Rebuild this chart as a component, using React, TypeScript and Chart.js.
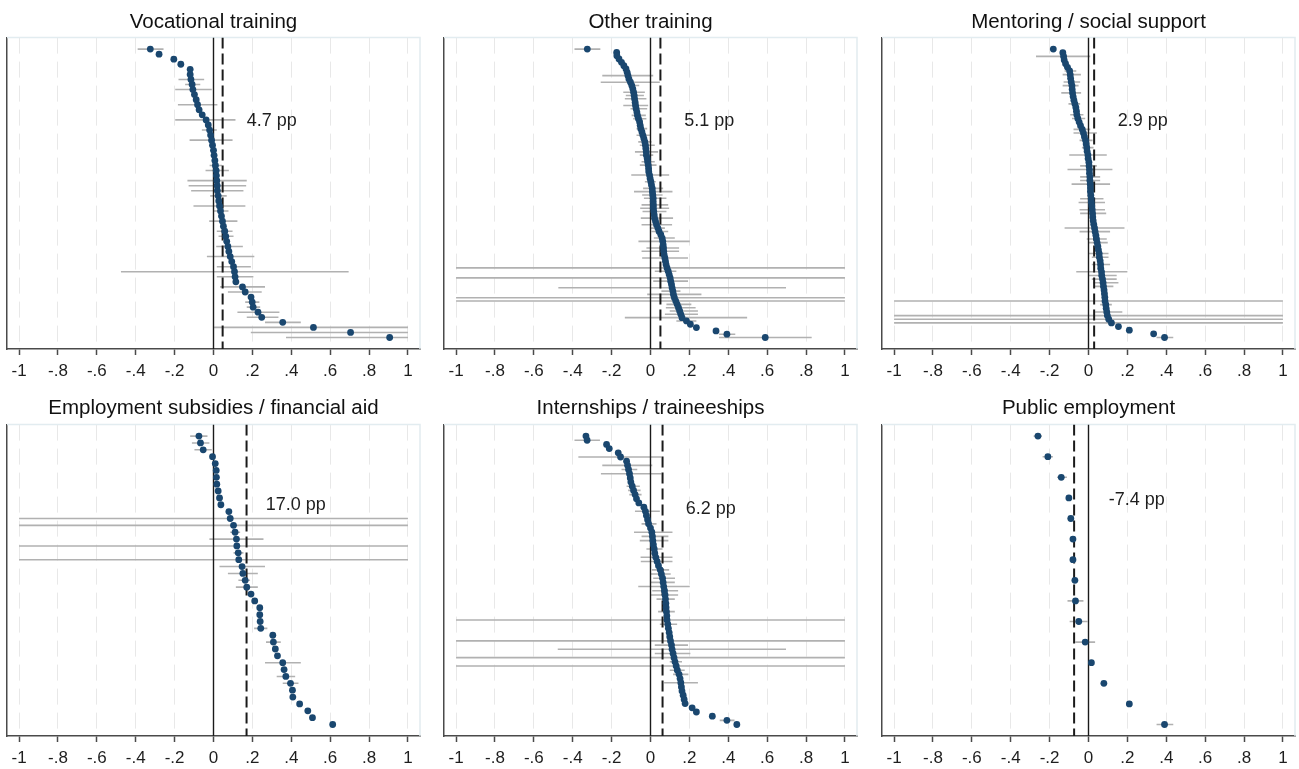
import React, { useEffect, useRef } from "react";
import { Chart, registerables } from "chart.js";

Chart.register(...registerables);

// ---------- shared axis content ----------
const TICK_VALUES = [-1, -0.8, -0.6, -0.4, -0.2, 0, 0.2, 0.4, 0.6, 0.8, 1];
const TICK_LABELS = ["-1", "-.8", "-.6", "-.4", "-.2", "0", ".2", ".4", ".6", ".8", "1"];

const TITLES = [
  "Vocational training",
  "Other training",
  "Mentoring / social support",
  "Employment subsidies / financial aid",
  "Internships / traineeships",
  "Public employment",
];
const MEANS = [0.047, 0.051, 0.029, 0.17, 0.062, -0.074];
const MEAN_LABELS = ["4.7 pp", "5.1 pp", "2.9 pp", "17.0 pp", "6.2 pp", "-7.4 pp"];
const MEAN_LABEL_X = [0.171, 0.173, 0.15, 0.269, 0.181, 0.104];

// ---------- Vocational training ----------
const VOC_EST = [
  -0.325, -0.28, -0.204, -0.168, -0.12, -0.12, -0.116, -0.11, -0.106, -0.098,
  -0.089, -0.082, -0.074, -0.058, -0.038, -0.027, -0.02, -0.015, -0.01, -0.005,
  0.0, 0.003, 0.007, 0.01, 0.014, 0.015, 0.017, 0.019, 0.02, 0.024,
  0.027, 0.031, 0.036, 0.041, 0.046, 0.051, 0.058, 0.063, 0.068, 0.074,
  0.079, 0.086, 0.094, 0.103, 0.108, 0.111, 0.115, 0.149, 0.163, 0.193,
  0.199, 0.204, 0.229, 0.248, 0.356, 0.514, 0.705, 0.906,
];
const VOC_CI_IDX = [0, 6, 7, 8, 11, 14, 16, 18, 23, 24, 26, 27, 28, 29, 31, 32, 34, 36, 37, 39, 41, 43, 44, 45, 47, 48, 50, 51, 52, 53, 54, 55, 56, 57];
const VOC_CI_LO = [-0.39, -0.18, -0.146, -0.197, -0.183, -0.197, -0.06, -0.123, -0.02, -0.041, -0.134, -0.128, -0.115, -0.017, -0.103, 0.0, -0.022, 0.017, 0.026, 0.014, -0.034, 0.017, -0.476, 0.017, 0.034, 0.074, 0.163, 0.171, 0.123, 0.171, 0.265, 0.003, 0.192, 0.373];
const VOC_CI_HI = [-0.257, -0.048, -0.068, -0.009, 0.02, 0.113, 0.017, 0.098, 0.043, 0.079, 0.171, 0.168, 0.154, 0.068, 0.164, 0.077, 0.123, 0.098, 0.103, 0.151, 0.21, 0.192, 0.695, 0.205, 0.265, 0.248, 0.236, 0.24, 0.339, 0.334, 0.449, 1, 1, 1];

// ---------- Other training ----------
const OTH_EST = [
  -0.325, -0.174, -0.173, -0.162, -0.149, -0.137, -0.126, -0.12, -0.116, -0.111,
  -0.103, -0.096, -0.091, -0.087, -0.084, -0.082, -0.079, -0.077, -0.074, -0.07,
  -0.067, -0.062, -0.056, -0.053, -0.05, -0.044, -0.039, -0.034, -0.029, -0.026,
  -0.024, -0.022, -0.021, -0.017, -0.015, -0.012, -0.01, -0.009, -0.005, -0.002,
  0.002, 0.005, 0.009, 0.01, 0.012, 0.014, 0.014, 0.015, 0.015, 0.017,
  0.019, 0.021, 0.026, 0.031, 0.038, 0.044, 0.053, 0.06, 0.063, 0.065,
  0.067, 0.068, 0.07, 0.074, 0.077, 0.08, 0.085, 0.091, 0.096, 0.101,
  0.104, 0.108, 0.111, 0.115, 0.118, 0.123, 0.13, 0.137, 0.144, 0.15,
  0.156, 0.162, 0.185, 0.205, 0.236, 0.337, 0.393, 0.59,
];
const OTH_CI_IDX = [0, 8, 10, 11, 13, 14, 15, 17, 18, 20, 21, 24, 26, 28, 29, 31, 32, 34, 35, 38, 40, 42, 43, 44, 45, 47, 48, 49, 51, 53, 54, 55, 57, 58, 60, 61, 63, 66, 67, 69, 70, 72, 73, 74, 75, 76, 77, 78, 79, 80, 81, 82, 86, 87];
const OTH_CI_LO = [-0.391, -0.248, -0.256, -0.106, -0.14, -0.127, -0.132, -0.14, -0.103, -0.097, -0.089, -0.072, -0.072, -0.063, -0.055, -0.08, -0.055, -0.046, -0.055, -0.099, -0.029, -0.038, -0.085, -0.043, -0.034, -0.046, -0.053, -0.041, -0.05, -0.046, -0.003, 0.005, 0.017, -0.062, -0.021, -0.046, -0.043, -1, 0.022, -1, 0.014, -0.474, 0.056, -0.017, -1, -1, 0.082, 0.079, 0.099, 0.074, -0.132, 0.133, 0.352, 0.352];
const OTH_CI_HI = [-0.258, 0.014, 0.048, -0.058, -0.029, -0.034, -0.021, -0.012, -0.017, -0.024, -0.021, -0.017, -0.003, 0.005, 0.022, 0.039, 0.014, 0.022, 0.031, 0.096, 0.027, 0.065, 0.113, 0.062, 0.082, 0.091, 0.096, 0.082, 0.116, 0.111, 0.074, 0.091, 0.125, 0.202, 0.147, 0.147, 0.193, 1, 0.133, 1, 0.193, 0.697, 0.154, 0.262, 1, 1, 0.21, 0.232, 0.244, 0.244, 0.497, 0.236, 0.436, 0.829];

// ---------- Mentoring / social support ----------
const MEN_EST = [
  -0.181, -0.132, -0.128, -0.125, -0.118, -0.108, -0.097, -0.094, -0.092, -0.089,
  -0.085, -0.084, -0.082, -0.079, -0.075, -0.07, -0.065, -0.062, -0.06, -0.055,
  -0.048, -0.041, -0.032, -0.026, -0.021, -0.015, -0.012, -0.009, -0.007, -0.003,
  -0.002, 0.002, 0.003, 0.005, 0.005, 0.007, 0.007, 0.009, 0.01, 0.01,
  0.012, 0.014, 0.015, 0.017, 0.019, 0.021, 0.022, 0.024, 0.027, 0.031,
  0.034, 0.038, 0.041, 0.044, 0.048, 0.051, 0.055, 0.056, 0.06, 0.062,
  0.063, 0.067, 0.068, 0.072, 0.075, 0.077, 0.08, 0.082, 0.084, 0.085,
  0.089, 0.091, 0.094, 0.097, 0.104, 0.118, 0.154, 0.21, 0.335, 0.391,
];
const MEN_CI_IDX = [2, 6, 7, 9, 10, 12, 15, 18, 19, 22, 23, 25, 27, 29, 32, 33, 35, 36, 37, 41, 42, 44, 45, 49, 50, 52, 53, 56, 57, 59, 61, 62, 63, 64, 65, 69, 70, 72, 73, 74, 75, 79];
const MEN_CI_LO = [-0.27, -0.123, -0.133, -0.128, -0.133, -0.14, -0.103, -0.094, -0.085, -0.077, -0.077, -0.046, -0.034, -0.099, -0.043, -0.108, -0.043, -0.043, -0.087, -0.043, -0.051, -0.046, -0.043, -0.123, -0.046, -0.009, 0.0, 0.0, 0.017, 0.017, -0.063, 0.0, 0.017, 0.026, 0.029, -1, 0.06, 0.034, -1, -1, -1, 0.35];
const MEN_CI_HI = [0.009, -0.063, -0.039, -0.043, -0.051, -0.038, -0.043, -0.026, -0.017, 0.009, 0.043, 0.021, 0.026, 0.094, 0.043, 0.123, 0.06, 0.06, 0.111, 0.077, 0.085, 0.085, 0.091, 0.185, 0.111, 0.094, 0.099, 0.103, 0.103, 0.111, 0.2, 0.145, 0.145, 0.154, 0.128, 1, 0.12, 0.174, 1, 1, 1, 0.436];

// ---------- Employment subsidies / financial aid ----------
const SUB_EST = [
  -0.075, -0.067, -0.053, -0.005, 0.009, 0.014, 0.015, 0.017, 0.024, 0.031,
  0.038, 0.079, 0.086, 0.103, 0.111, 0.118, 0.12, 0.127, 0.13, 0.147,
  0.151, 0.163, 0.171, 0.193, 0.212, 0.238, 0.238, 0.24, 0.243, 0.305,
  0.308, 0.318, 0.329, 0.356, 0.363, 0.372, 0.396, 0.406, 0.408, 0.443,
  0.485, 0.509, 0.613,
];
const SUB_CI_IDX = [0, 1, 2, 9, 12, 13, 14, 15, 16, 17, 18, 19, 20, 21, 22, 28, 30, 33, 35, 36];
const SUB_CI_LO = [-0.12, -0.111, -0.098, 0.017, -1, -1, 0.086, -0.021, -1, 0.103, -1, 0.031, 0.074, 0.128, 0.115, 0.209, 0.27, 0.265, 0.325, 0.356];
const SUB_CI_HI = [-0.031, -0.021, -0.009, 0.048, 1, 1, 0.137, 0.257, 1, 0.154, 1, 0.265, 0.228, 0.188, 0.228, 0.277, 0.346, 0.449, 0.42, 0.437];

// ---------- Internships / traineeships ----------
const INT_EST = [
  -0.332, -0.326, -0.226, -0.212, -0.166, -0.154, -0.123, -0.118, -0.113, -0.108,
  -0.104, -0.101, -0.094, -0.087, -0.079, -0.072, -0.06, -0.034, -0.026, -0.021,
  -0.015, -0.01, 0.0, 0.007, 0.01, 0.012, 0.015, 0.019, 0.022, 0.027,
  0.034, 0.041, 0.05, 0.056, 0.062, 0.065, 0.068, 0.072, 0.075, 0.077,
  0.079, 0.08, 0.082, 0.084, 0.085, 0.089, 0.092, 0.096, 0.099, 0.103,
  0.108, 0.111, 0.116, 0.121, 0.126, 0.132, 0.138, 0.147, 0.152, 0.156,
  0.159, 0.162, 0.168, 0.173, 0.178, 0.214, 0.236, 0.318, 0.393, 0.444,
];
const INT_CI_IDX = [1, 5, 7, 8, 9, 12, 13, 14, 18, 21, 23, 24, 25, 27, 29, 30, 32, 33, 34, 35, 36, 37, 38, 39, 42, 44, 45, 49, 50, 51, 52, 53, 54, 55, 56, 57, 59, 68];
const INT_CI_LO = [-0.391, -0.371, -0.248, -0.149, -0.255, -0.123, -0.115, -0.109, -0.08, -0.046, -0.085, -0.046, -0.055, -0.021, -0.051, -0.05, 0.007, 0.0, 0.014, 0.002, -0.063, 0.009, 0.002, 0.031, 0.039, -1, 0.048, -1, 0.022, -0.477, 0.022, -1, 0.099, -1, 0.099, 0.116, 0.07, 0.356];
const INT_CI_HI = [-0.26, 0.056, 0.009, -0.068, 0.056, -0.055, -0.051, -0.046, 0.048, 0.031, 0.113, 0.092, 0.092, 0.062, 0.113, 0.113, 0.096, 0.104, 0.126, 0.125, 0.202, 0.142, 0.142, 0.125, 0.125, 1, 0.137, 1, 0.193, 0.697, 0.205, 1, 0.162, 1, 0.176, 0.195, 0.244, 0.432];

// ---------- Public employment ----------
const PUB_EST = [-0.26, -0.209, -0.14, -0.101, -0.091, -0.08, -0.08, -0.07, -0.067, -0.05, -0.017, 0.015, 0.079, 0.21, 0.391];
const PUB_CI_IDX = [0, 1, 2, 4, 8, 9, 10, 14];
const PUB_CI_LO = [-0.282, -0.236, -0.162, -0.108, -0.108, -0.097, -0.068, 0.35];
const PUB_CI_HI = [-0.239, -0.183, -0.111, -0.074, -0.026, -0.005, 0.034, 0.436];

// ---------- layout / style ----------
const FONT = "'Liberation Sans', Arial, Helvetica, sans-serif";
const NAVY = "#1a476f";
const CI_GRAY = "#b1b1b1";
const AXIS = "#4a4a4a";
const COL_LEFT = [7, 444, 882];
const PLOT_W = 413;
const SIDE_PAD = 4;
const ROW_TOP = [0, 385];
const ROW_H = [385, 384];
const PLOT_TOP = [37, 39];
const PLOT_BOTTOM = [349, 351];
const TITLE_PAD = [
  { top: 10, bottom: 3 },
  { top: 11, bottom: 4 },
];
const LABEL_Y_FRAC = [0.267, 0.267, 0.267, 0.257, 0.272, 0.243];
const EDGE_PAD = 11.5;

type Panel = {
  est: number[];
  ciIdx: number[];
  ciLo: number[];
  ciHi: number[];
};

const PANELS: Panel[] = [
  { est: VOC_EST, ciIdx: VOC_CI_IDX, ciLo: VOC_CI_LO, ciHi: VOC_CI_HI },
  { est: OTH_EST, ciIdx: OTH_CI_IDX, ciLo: OTH_CI_LO, ciHi: OTH_CI_HI },
  { est: MEN_EST, ciIdx: MEN_CI_IDX, ciLo: MEN_CI_LO, ciHi: MEN_CI_HI },
  { est: SUB_EST, ciIdx: SUB_CI_IDX, ciLo: SUB_CI_LO, ciHi: SUB_CI_HI },
  { est: INT_EST, ciIdx: INT_CI_IDX, ciLo: INT_CI_LO, ciHi: INT_CI_HI },
  { est: PUB_EST, ciIdx: PUB_CI_IDX, ciLo: PUB_CI_LO, ciHi: PUB_CI_HI },
];

function PanelChart({ index }: { index: number }) {
  const ref = useRef<HTMLCanvasElement | null>(null);
  const row = Math.floor(index / 3);
  const col = index % 3;
  const width = PLOT_W + 2 * SIDE_PAD;
  const height = ROW_H[row];

  useEffect(() => {
    const canvas = ref.current;
    if (!canvas) return;
    const panel = PANELS[index];
    const n = panel.est.length;
    const plotH = PLOT_BOTTOM[row] - PLOT_TOP[row];
    const spacing = (plotH - 2 * EDGE_PAD) / (n - 1);
    const padU = EDGE_PAD / spacing;
    const yMin = 1 - padU;
    const yMax = n + padU;

    const points = panel.est.map((v, i) => ({ x: v, y: i + 1 }));
    const ciData: { x: number | null; y: number | null }[] = [];
    panel.ciIdx.forEach((idx, j) => {
      ciData.push({ x: panel.ciLo[j], y: idx + 1 });
      ciData.push({ x: panel.ciHi[j], y: idx + 1 });
      ciData.push({ x: null, y: null });
    });
    const mean = MEANS[index];

    const framePlugin = {
      id: "frameTopRight",
      beforeDatasetsDraw(chart: any) {
        const { ctx, chartArea: a } = chart;
        ctx.save();
        ctx.strokeStyle = "#e2ecf0";
        ctx.lineWidth = 1.5;
        ctx.beginPath();
        ctx.moveTo(a.left, a.top);
        ctx.lineTo(a.right, a.top);
        ctx.lineTo(a.right, a.bottom);
        ctx.stroke();
        ctx.restore();
      },
    };
    const labelPlugin = {
      id: "meanLabel",
      afterDatasetsDraw(chart: any) {
        const { ctx, chartArea: a, scales } = chart;
        ctx.save();
        ctx.font = `18px ${FONT}`;
        ctx.fillStyle = "#1e1e1e";
        ctx.textAlign = "left";
        ctx.textBaseline = "middle";
        ctx.fillText(
          MEAN_LABELS[index],
          scales.x.getPixelForValue(MEAN_LABEL_X[index]),
          a.top + LABEL_Y_FRAC[index] * (a.bottom - a.top)
        );
        ctx.restore();
      },
    };

    const chart = new Chart(canvas, {
      type: "scatter",
      data: {
        datasets: [
          {
            label: "ci",
            data: ciData as any,
            showLine: true,
            spanGaps: false,
            pointRadius: 0,
            borderColor: CI_GRAY,
            borderWidth: 1.6,
            order: 3,
          },
          {
            label: "zero",
            data: [
              { x: 0, y: yMin },
              { x: 0, y: yMax },
            ],
            showLine: true,
            pointRadius: 0,
            borderColor: "#1a1a1a",
            borderWidth: 1.4,
            order: 2,
          },
          {
            label: "mean",
            data: [
              { x: mean, y: yMin },
              { x: mean, y: yMax },
            ],
            showLine: true,
            pointRadius: 0,
            borderColor: "#1a1a1a",
            borderWidth: 2,
            borderDash: [11, 5],
            order: 1,
          },
          {
            label: "est",
            data: points,
            pointRadius: 3.4,
            pointBackgroundColor: NAVY,
            pointBorderColor: NAVY,
            pointBorderWidth: 0,
            order: 0,
          },
        ],
      },
      options: {
        animation: false,
        responsive: false,
        devicePixelRatio: 1,
        events: [],
        layout: { padding: { left: SIDE_PAD, right: SIDE_PAD, top: 0, bottom: 0 } },
        plugins: {
          legend: { display: false },
          tooltip: { enabled: false },
          title: {
            display: true,
            text: TITLES[index],
            color: "#111111",
            font: { family: FONT, size: 20.5, weight: "normal" },
            padding: TITLE_PAD[row],
          },
        },
        scales: {
          x: {
            type: "linear",
            min: -1.062,
            max: 1.062,
            afterBuildTicks: (scale: any) => {
              scale.ticks = TICK_VALUES.map((v) => ({ value: v }));
            },
            afterFit: (scale: any) => {
              scale.height = ROW_H[row] - PLOT_BOTTOM[row];
            },
            ticks: {
              autoSkip: false,
              maxRotation: 0,
              minRotation: 0,
              padding: 6,
              color: "#1e1e1e",
              font: { family: FONT, size: 17 },
              callback: (_v: any, i: number) => TICK_LABELS[i],
            },
            grid: {
              color: "#e8e8e8",
              lineWidth: 1,
              drawTicks: true,
              tickLength: 6,
              tickColor: AXIS,
              tickWidth: 1.5,
            },
            border: { display: true, color: AXIS, width: 1.5, dash: [16, 8] },
          },
          y: {
            type: "linear",
            reverse: true,
            min: yMin,
            max: yMax,
            ticks: { display: false },
            grid: { display: false, drawTicks: false },
            border: { display: true, color: AXIS, width: 1.5 },
            afterFit: (scale: any) => {
              scale.width = 0;
            },
          },
        },
      } as any,
      plugins: [framePlugin, labelPlugin],
    });
    return () => chart.destroy();
  }, [index, row]);

  return (
    <canvas
      ref={ref}
      width={width}
      height={height}
      style={{
        position: "absolute",
        left: COL_LEFT[col] - SIDE_PAD,
        top: ROW_TOP[row],
        width,
        height,
      }}
    />
  );
}

export default function App() {
  return (
    <div
      style={{
        position: "absolute",
        left: 0,
        top: 0,
        width: 1299,
        height: 769,
        background: "#ffffff",
        overflow: "hidden",
      }}
    >
      {PANELS.map((_, i) => (
        <PanelChart key={i} index={i} />
      ))}
    </div>
  );
}
